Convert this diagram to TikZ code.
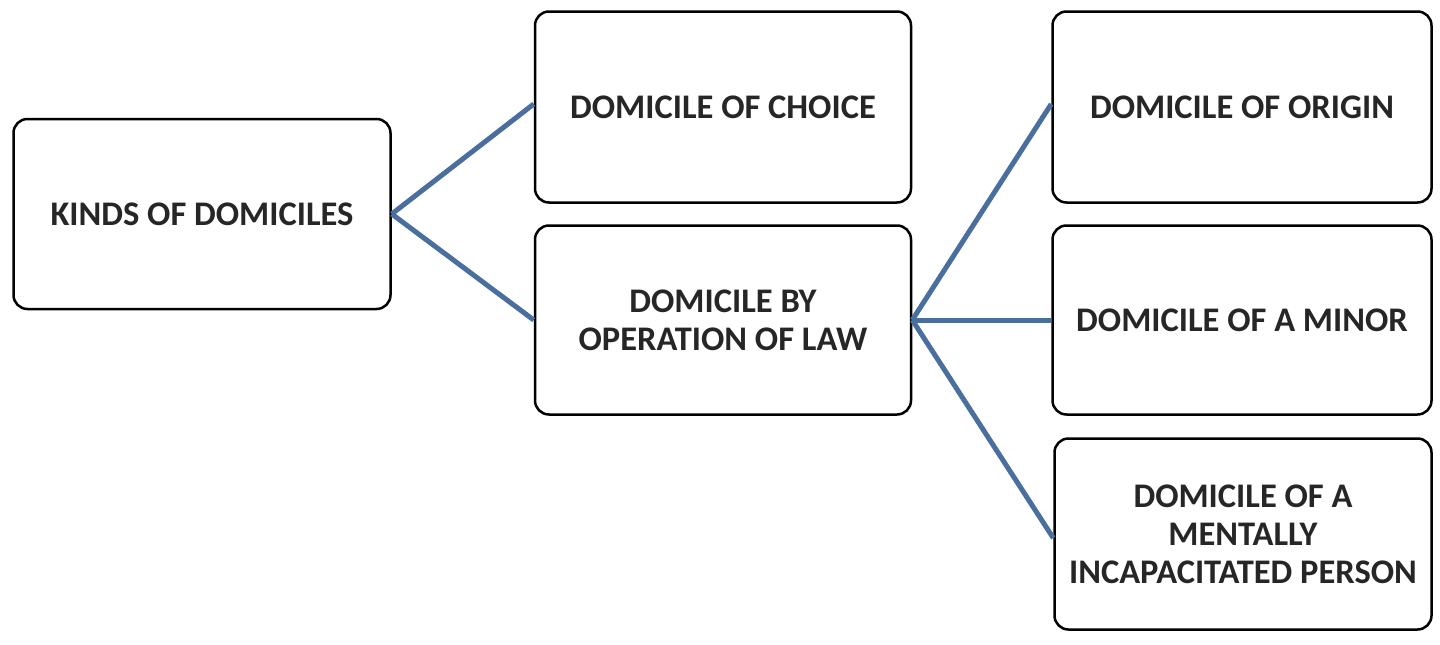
\documentclass[tikz,border=0pt]{standalone}
\usepackage{fontspec}
\setmainfont{Carlito}
\definecolor{conn}{RGB}{74,110,158}
\begin{document}
\begin{tikzpicture}[x=1pt,y=-1pt,
  box/.style={draw=black,line width=2.5pt,rounded corners=14pt,fill=white,align=center,
    font=\fontsize{34.5}{38}\selectfont\bfseries,text=black!85,inner sep=0pt},
  conline/.style={draw=conn,line width=5pt}]
\useasboundingbox (0,0) rectangle (1440,645);
\node[box,minimum width=377pt,minimum height=190pt] (a) at (202,214) {KINDS OF DOMICILES};
\node[box,minimum width=376pt,minimum height=191pt] (b) at (723,107) {DOMICILE OF CHOICE};
\node[box,minimum width=376pt,minimum height=189pt] (c) at (723,320) {DOMICILE BY\\OPERATION OF LAW};
\node[box,minimum width=379pt,minimum height=191pt] (d) at (1242,107) {DOMICILE OF ORIGIN};
\node[box,minimum width=379pt,minimum height=189pt] (e) at (1242,320) {DOMICILE OF A MINOR};
\node[box,minimum width=377pt,minimum height=191pt] (f) at (1243,534) {DOMICILE OF A\\MENTALLY\\INCAPACITATED PERSON};
\draw[conline] (a.east) -- ([yshift=3pt]b.west);
\draw[conline] (a.east) -- (c.west);
\draw[conline] (c.east) -- ([yshift=3pt]d.west);
\draw[conline] (c.east) -- (e.west);
\draw[conline] (c.east) -- ([yshift=-4pt]f.west);
\end{tikzpicture}
\end{document}
